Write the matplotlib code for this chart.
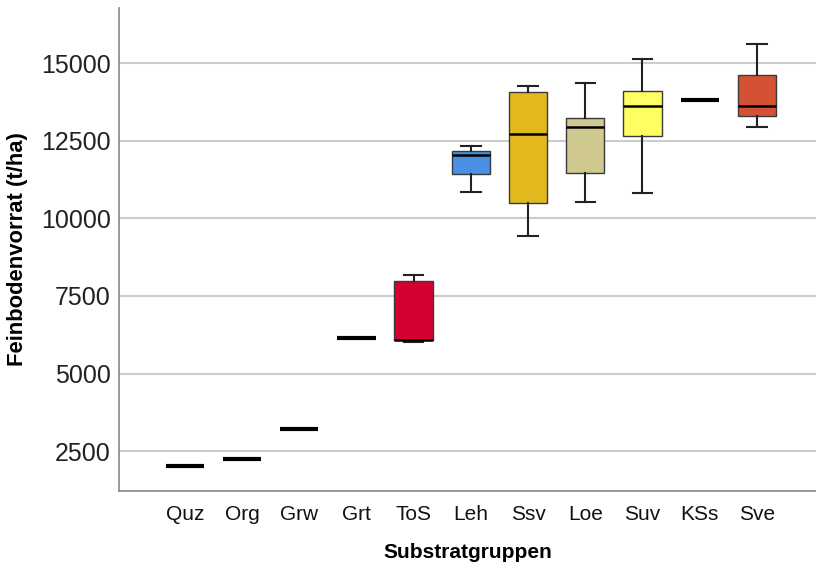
import matplotlib.pyplot as plt

plt.rcParams['font.family'] = ['Liberation Sans', 'DejaVu Sans']

groups = ["Quz", "Org", "Grw", "Grt", "ToS", "Leh", "Ssv", "Loe", "Suv", "KSs", "Sve"]
whislo = [2020, 2250, 3220, 6150, 6010, 10840, 9450, 10540, 10820, 13830, 12960]
q1 = [2020, 2250, 3220, 6150, 6070, 11440, 10500, 11480, 12660, 13830, 13300]
med = [2020, 2250, 3220, 6150, 6080, 12050, 12710, 12950, 13630, 13830, 13630]
q3 = [2020, 2250, 3220, 6150, 7970, 12160, 14090, 13240, 14120, 13830, 14620]
whishi = [2020, 2250, 3220, 6150, 8190, 12320, 14280, 14360, 15130, 13830, 15620]
colors = ["white", "white", "white", "white", "#D50032", "#4A90E2",
          "#E1B81E", "#CFC98F", "#FFFF63", "white", "#D45233"]

fig = plt.figure(figsize=(8.16, 5.63), dpi=100)
ax = fig.add_axes([0.1458, 0.1284, 0.854, 0.8574])

stats = []
for i, g in enumerate(groups):
    stats.append(dict(label=g, whislo=whislo[i], q1=q1[i], med=med[i],
                      q3=q3[i], whishi=whishi[i], fliers=[]))

bp = ax.bxp(stats, positions=range(len(groups)), widths=0.67,
            patch_artist=True, showfliers=False,
            boxprops=dict(edgecolor="#3a3a3a", linewidth=1.0),
            medianprops=dict(color="black", linewidth=1.8),
            whiskerprops=dict(color="#222222", linewidth=1.5),
            capprops=dict(color="#222222", linewidth=1.5),
            capwidths=0.34, zorder=3)

for i, patch in enumerate(bp["boxes"]):
    patch.set_facecolor(colors[i])
    if q1[i] == q3[i]:
        patch.set_edgecolor("none")
        bp["medians"][i].set_linewidth(3.0)
        bp["caps"][2 * i].set_visible(False)
        bp["caps"][2 * i + 1].set_visible(False)

ax.set_xlim(-1.15, 11.03)
ax.set_ylim(1223, 16784)
ax.set_yticks([2500, 5000, 7500, 10000, 12500, 15000])
ax.yaxis.grid(True, color="#cccccc", linewidth=1.5, zorder=0)
ax.set_axisbelow(True)

for s in ["top", "right"]:
    ax.spines[s].set_visible(False)
for s in ["left", "bottom"]:
    ax.spines[s].set_color("#888888")
    ax.spines[s].set_linewidth(1.2)

ax.tick_params(axis="y", length=0, pad=6, labelsize=18, labelcolor="#222222")
ax.tick_params(axis="x", length=0, pad=10, labelsize=15, labelcolor="#111111")

ax.set_ylabel("Feinbodenvorrat (t/ha)", fontsize=15.8, fontweight="bold", labelpad=9)
ax.set_xlabel("Substratgruppen", fontsize=15, fontweight="bold", labelpad=14)

fig.savefig("out.png", dpi=100)
